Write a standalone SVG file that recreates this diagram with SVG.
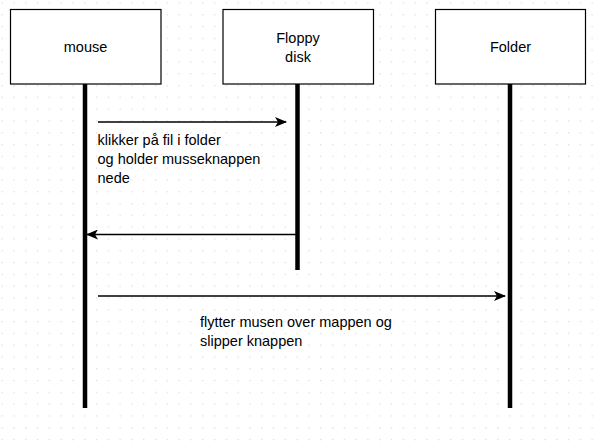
<svg xmlns="http://www.w3.org/2000/svg" width="603" height="442" viewBox="0 0 603 442">
<defs>
<pattern id="grid" x="1.5" y="2.3" width="11.8" height="11.8" patternUnits="userSpaceOnUse">
<rect x="0" y="0" width="1.3" height="1.3" fill="#dcdcdc"/>
</pattern>
<marker id="arr" viewBox="0 0 12 10" refX="11" refY="5" markerWidth="12" markerHeight="10" markerUnits="userSpaceOnUse" orient="auto">
<path d="M0,0 L12,5 L0,10 L3,5 Z" fill="#000"/>
</marker>
</defs>
<style>
.box{fill:#fff;stroke:#000;stroke-width:1.2}
.life{stroke:#000;stroke-width:4.5;fill:none}
.msg{stroke:#000;stroke-width:1.3;fill:none}
text{font-family:"Liberation Sans",Arial,sans-serif;font-size:14.5px;fill:#000}
.c{text-anchor:middle}
</style>
<rect width="603" height="442" fill="#fff"/>
<rect width="603" height="442" fill="url(#grid)"/>
<g id="connectors">
<line class="msg" x1="98" y1="122" x2="286" y2="122" marker-end="url(#arr)"/>
<line class="msg" x1="296" y1="234.5" x2="87" y2="234.5" marker-end="url(#arr)"/>
<line class="msg" x1="98" y1="296" x2="505" y2="296" marker-end="url(#arr)"/>
</g>
<g id="mouse">
<line class="life" x1="85" y1="84" x2="85" y2="408"/>
<rect class="box" x="10.5" y="9.5" width="150.5" height="74.5"/>
<text class="c" x="85.5" y="51.5">mouse</text>
</g>
<g id="floppy">
<line class="life" x1="297.5" y1="84" x2="297.5" y2="270"/>
<rect class="box" x="223" y="9.5" width="150.5" height="74.5"/>
<text class="c" x="298" y="43">Floppy</text>
<text class="c" x="298" y="62">disk</text>
</g>
<g id="folder">
<line class="life" x1="510" y1="84" x2="510" y2="408"/>
<rect class="box" x="435.5" y="9.5" width="150" height="74.5"/>
<text class="c" x="510.5" y="51.5">Folder</text>
</g>
<g id="labels">
<text x="97.5" y="144.5">klikker på fil i folder</text>
<text x="97.5" y="163.5">og holder musseknappen</text>
<text x="97.5" y="182.5">nede</text>
<text x="200" y="327">flytter musen over mappen og</text>
<text x="200" y="346">slipper knappen</text>
</g>
</svg>
